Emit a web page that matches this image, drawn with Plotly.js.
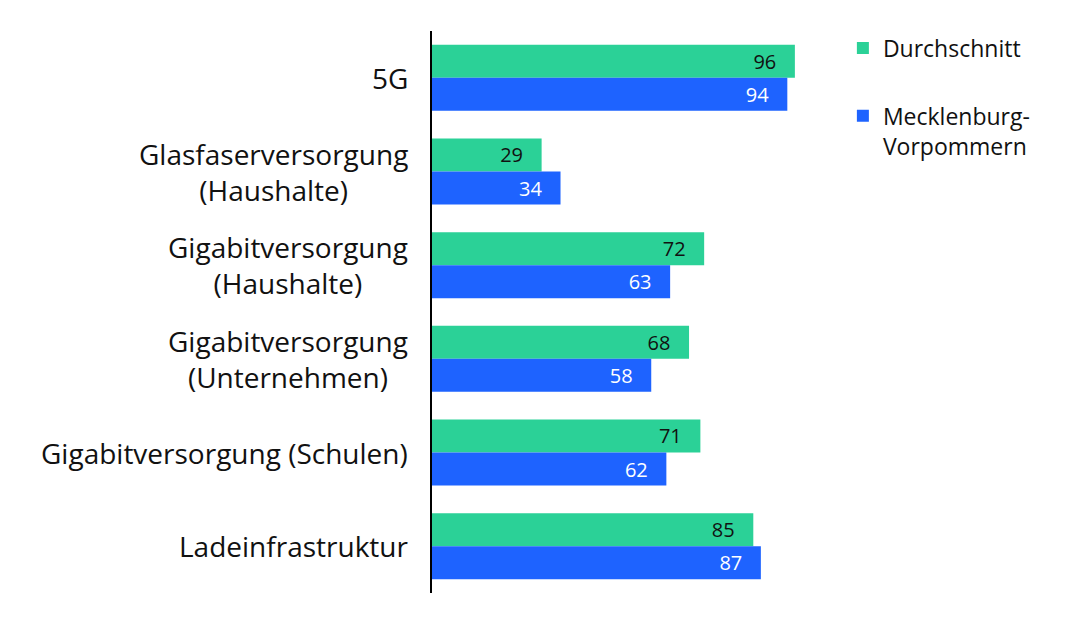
<!DOCTYPE html>
<html>
<head>
<meta charset="utf-8">
<script src="https://cdn.plot.ly/plotly-3.0.1.min.js"></script>
<style>html,body{margin:0;padding:0;background:#fff;}#chart{width:1090px;height:623px;}</style>
</head>
<body>
<div id="chart"></div>
<script>
const categories = ["5G", "Glasfaserversorgung (Haushalte)", "Gigabitversorgung (Haushalte)", "Gigabitversorgung (Unternehmen)", "Gigabitversorgung (Schulen)", "Ladeinfrastruktur"];
const categoryLabels = ["5G", "Glasfaserversorgung<br>(Haushalte)", "Gigabitversorgung<br>(Haushalte)", "Gigabitversorgung<br>(Unternehmen)", "Gigabitversorgung (Schulen)", "Ladeinfrastruktur"];
const durchschnitt = [96, 29, 72, 68, 71, 85];
const mecklenburgVorpommern = [94, 34, 63, 58, 62, 87];
const seriesNames = ["Durchschnitt", "Mecklenburg-<br>Vorpommern"];

const FONT = "Open Sans, Noto Sans, sans-serif";
const GREEN = "#2BD197";
const BLUE = "#1E63FF";
const PAD = "\u00a0\u00a0\u00a0";

const traces = [
  {
    type: "bar", orientation: "h", name: seriesNames[0], legendgroup: "a",
    y: categories, x: durchschnitt,
    marker: {color: GREEN},
    text: durchschnitt.map(v => v + PAD), textposition: "inside", insidetextanchor: "end",
    textfont: {family: FONT, size: 20, color: "#111"},
    hoverinfo: "x+y", cliponaxis: false
  },
  {
    type: "bar", orientation: "h", name: seriesNames[1], legendgroup: "b",
    y: categories, x: mecklenburgVorpommern,
    marker: {color: BLUE},
    text: mecklenburgVorpommern.map(v => v + PAD), textposition: "inside", insidetextanchor: "end",
    textfont: {family: FONT, size: 20, color: "#fff"},
    hoverinfo: "x+y", cliponaxis: false
  }
];

const annotations = categories.map((c, i) => ({
  xref: "paper", yref: "y", x: 0, y: c, xanchor: "right", yanchor: "middle",
  xshift: -22, text: categoryLabels[i], align: "center", showarrow: false,
  font: {family: FONT, size: 28, color: "#111"}
}));

const layout = {
  width: 1090, height: 623,
  margin: {l: 432, r: 280, t: 31, b: 30, pad: 0},
  paper_bgcolor: "#fff", plot_bgcolor: "#fff",
  barmode: "group", bargap: 0.295, bargroupgap: 0,
  font: {family: FONT, color: "#111"},
  xaxis: {range: [0, 100], showgrid: false, zeroline: false, showticklabels: false, showline: false, ticks: ""},
  yaxis: {autorange: "reversed", showgrid: false, zeroline: false, showticklabels: false, ticks: "",
          showline: true, linecolor: "#000", linewidth: 2},
  showlegend: true,
  legend: {x: 1.087, y: 1.008, xanchor: "left", yanchor: "top", traceorder: "grouped", tracegroupgap: 35,
           valign: "top", font: {family: FONT, size: 23, color: "#111"}, bgcolor: "rgba(0,0,0,0)"},
  annotations: annotations
};

Plotly.newPlot("chart", traces, layout, {displayModeBar: false, staticPlot: true});
</script>
</body>
</html>
